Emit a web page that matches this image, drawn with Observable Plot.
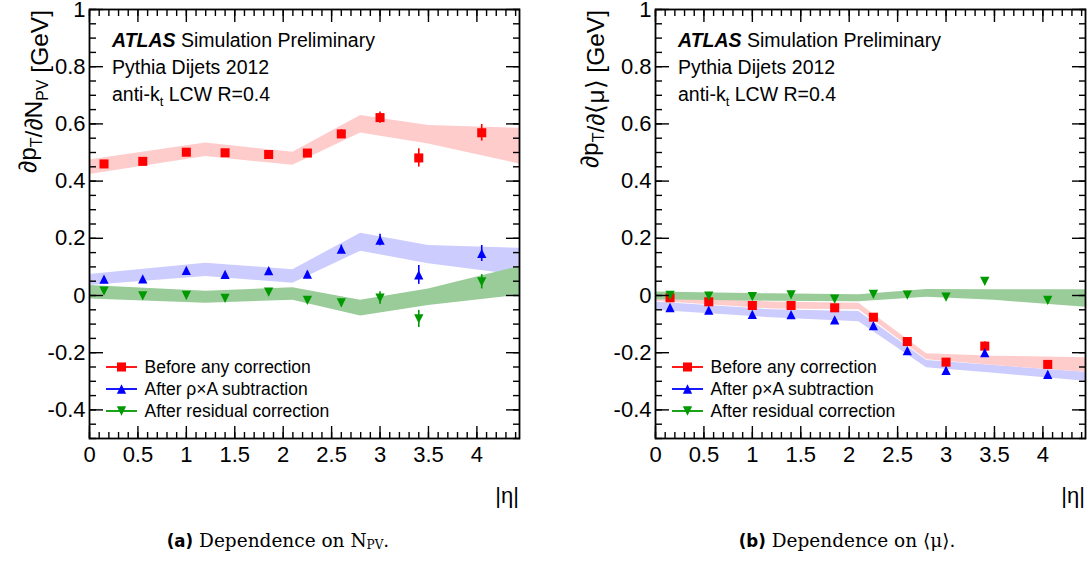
<!DOCTYPE html>
<html>
<head>
<meta charset="utf-8">
<script src="https://cdn.jsdelivr.net/npm/d3@7"></script>
<script src="https://cdn.jsdelivr.net/npm/@observablehq/plot@0.6"></script>
<style>
  body { margin: 0; background: #fff; }
  #wrap { position: relative; width: 1092px; height: 563px; background: #fff; overflow: hidden; }
  .panel { position: absolute; top: 0; }
  .cap { position: absolute; top: 530px; transform: translateX(-50%); white-space: nowrap;
         font-family: "DejaVu Serif", "Liberation Serif", serif; font-size: 18.5px; color: #000; }
  .cap b { font-family: "DejaVu Sans Condensed", "DejaVu Sans", sans-serif; font-weight: bold; }
  .cap sub { font-size: 12px; vertical-align: -2px; }
</style>
</head>
<body>
<div id="wrap">
  <div class="panel" id="pa" style="left:0"></div>
  <div class="panel" id="pb" style="left:546px"></div>
  <div class="cap" style="left:278px"><b>(a)</b> Dependence on N<sub>PV</sub>.</div>
  <div class="cap" style="left:847px"><b>(b)</b> Dependence on ⟨μ⟩.</div>
</div>
<script>
// |eta| bin centres of the measured points
const etaBins = [0.15, 0.55, 1.0, 1.4, 1.85, 2.25, 2.6, 3.0, 3.4, 4.05];
// |eta| nodes of the systematic bands
const bandEta = [0, 1.2, 2.1, 2.8, 3.5, 4.44];

// (a) dependence on N_PV
const npvBefore      = [0.460, 0.469, 0.501, 0.499, 0.493, 0.498, 0.565, 0.622, 0.481, 0.569];
const npvBeforeErr   = [0.005, 0.005, 0.006, 0.006, 0.006, 0.007, 0.015, 0.020, 0.032, 0.029];
const npvRhoA        = [0.057, 0.058, 0.088, 0.074, 0.087, 0.075, 0.162, 0.194, 0.072, 0.147];
const npvRhoAErr     = [0.005, 0.005, 0.006, 0.006, 0.006, 0.008, 0.014, 0.020, 0.033, 0.028];
const npvResidual    = [0.015, -0.001, 0.000, -0.010, 0.012, -0.017, -0.026, -0.009, -0.082, 0.048];
const npvResidualErr = [0.005, 0.005, 0.006, 0.006, 0.006, 0.007, 0.013, 0.022, 0.030, 0.025];
const npvBandBeforeLo   = [0.423, 0.486, 0.455, 0.568, 0.530, 0.460];
const npvBandBeforeHi   = [0.474, 0.533, 0.501, 0.629, 0.594, 0.585];
const npvBandRhoALo     = [0.035, 0.066, 0.043, 0.155, 0.111, 0.070];
const npvBandRhoAHi     = [0.073, 0.113, 0.090, 0.218, 0.175, 0.165];
const npvBandResidualLo = [-0.012, -0.027, -0.017, -0.072, -0.035, 0.001];
const npvBandResidualHi = [0.035, 0.015, 0.027, -0.017, 0.023, 0.101];

// (b) dependence on <mu>
const muBefore      = [-0.008, -0.022, -0.035, -0.035, -0.043, -0.076, -0.161, -0.233, -0.177, -0.241];
const muBeforeErr   = [0.004, 0.004, 0.004, 0.004, 0.005, 0.005, 0.007, 0.009, 0.015, 0.010];
const muRhoA        = [-0.042, -0.051, -0.066, -0.067, -0.085, -0.105, -0.193, -0.262, -0.200, -0.276];
const muRhoAErr     = [0.004, 0.004, 0.004, 0.004, 0.005, 0.005, 0.007, 0.009, 0.012, 0.010];
const muResidual    = [0.000, -0.002, -0.004, 0.002, -0.013, 0.004, 0.001, -0.006, 0.049, -0.017];
const muResidualErr = [0.004, 0.004, 0.004, 0.004, 0.005, 0.005, 0.006, 0.008, 0.012, 0.010];
const muBandBeforeLo   = [-0.020, -0.047, -0.050, -0.225, -0.245, -0.268];
const muBandBeforeHi   = [-0.003, -0.023, -0.027, -0.204, -0.212, -0.218];
const muBandRhoALo     = [-0.052, -0.078, -0.092, -0.253, -0.272, -0.300];
const muBandRhoAHi     = [-0.023, -0.050, -0.056, -0.227, -0.245, -0.268];
const muBandResidualLo = [-0.015, -0.020, -0.022, -0.006, -0.017, -0.041];
const muBandResidualHi = [0.012, 0.006, 0.003, 0.021, 0.020, 0.020];

// axis ticks
const xMajor = [0, 0.5, 1, 1.5, 2, 2.5, 3, 3.5, 4];
const xMinor = d3.range(0, 45).map(i => i / 10);
const yMajor = [-0.4, -0.2, 0, 0.2, 0.4, 0.6, 0.8, 1];
const yMinor = d3.range(-10, 21).map(i => +(i * 0.05).toFixed(2));

const seriesNames = ["Before any correction", "After \u03C1\u00D7A subtraction", "After residual correction"];
const markColors = ["#ff0000", "#0000ff", "#009a00"];
const bandColors = ["#ffcccc", "#ccccff", "#99cc99"];

// ROOT-like markers: full square, full triangle up, full triangle down
const triUp = {draw(ctx, size) { const w = Math.sqrt(2 * size); ctx.moveTo(0, -w / 2); ctx.lineTo(w / 2, w / 2); ctx.lineTo(-w / 2, w / 2); ctx.closePath(); }};
const triDown = {draw(ctx, size) { const w = Math.sqrt(2 * size); ctx.moveTo(0, w / 2); ctx.lineTo(w / 2, -w / 2); ctx.lineTo(-w / 2, -w / 2); ctx.closePath(); }};
const markerSymbols = ["square", triUp, triDown];
const markerR = [5.1, 3.7, 3.7];

const rows = (v, e) => etaBins.map((eta, i) => ({eta, v: v[i], lo: v[i] - e[i], hi: v[i] + e[i]}));
const band = (lo, hi) => bandEta.map((eta, i) => ({eta, lo: lo[i], hi: hi[i]}));

const W = 546, H = 510, MT = 9, MB = 72;
const FONT = "'Liberation Sans', Arial, Helvetica, sans-serif";

function panel({marginLeft, marginRight, series, bands, yTitle, yTitleX}) {
  const bandOrder = [1, 0, 2];
  const marks = [];
  for (const k of bandOrder) {
    marks.push(Plot.areaY(bands[k], {x: "eta", y1: "lo", y2: "hi", fill: bandColors[k], curve: "linear"}));
  }
  series.forEach((s, k) => {
    marks.push(Plot.ruleX(s, {x: "eta", y1: "lo", y2: "hi", stroke: markColors[k], strokeWidth: 1.6}));
  });
  series.forEach((s, k) => {
    marks.push(Plot.dot(s, {x: "eta", y: "v", symbol: markerSymbols[k], r: markerR[k], fill: markColors[k], stroke: "none"}));
  });
  const blank = () => "";
  marks.push(
    // tick labels
    Plot.axisX(xMajor, {anchor: "bottom", tickSize: 0, tickPadding: 8, tickFormat: d => String(d), fontSize: 22, label: null}),
    Plot.axisY(yMajor, {anchor: "left", tickSize: 0, tickPadding: 4, tickFormat: d => String(d), fontSize: 22, label: null}),
    // inward ticks on all four sides
    Plot.axisX(xMajor, {anchor: "bottom", tickSize: -12, tickFormat: blank, label: null, strokeWidth: 1.4}),
    Plot.axisX(xMinor, {anchor: "bottom", tickSize: -6, tickFormat: blank, label: null, strokeWidth: 1.4}),
    Plot.axisX(xMajor, {anchor: "top", tickSize: -12, tickFormat: blank, label: null, strokeWidth: 1.4}),
    Plot.axisX(xMinor, {anchor: "top", tickSize: -6, tickFormat: blank, label: null, strokeWidth: 1.4}),
    Plot.axisY(yMajor, {anchor: "left", tickSize: -14, tickFormat: blank, label: null, strokeWidth: 1.4}),
    Plot.axisY(yMinor, {anchor: "left", tickSize: -7, tickFormat: blank, label: null, strokeWidth: 1.4}),
    Plot.axisY(yMajor, {anchor: "right", tickSize: -14, tickFormat: blank, label: null, strokeWidth: 1.4}),
    Plot.axisY(yMinor, {anchor: "right", tickSize: -7, tickFormat: blank, label: null, strokeWidth: 1.4}),
    Plot.frame({stroke: "#000", strokeWidth: 1.8})
  );

  const svg = Plot.plot({
    width: W, height: H,
    marginTop: MT, marginBottom: MB, marginLeft, marginRight,
    x: {domain: [0, 4.44]},
    y: {domain: [-0.5, 1]},
    style: {fontFamily: FONT, fontSize: "22px", color: "#000", background: "#fff", overflow: "visible"},
    marks
  });

  const g = d3.select(svg);
  const left = marginLeft, right = W - marginRight;
  const txt = (sel, size) => sel.style("font-family", FONT).style("font-size", size).attr("fill", "#000");

  // vertical axis title with subscripts
  const yt = txt(g.append("text")
    .attr("transform", `translate(${yTitleX},${10}) rotate(-90)`)
    .attr("text-anchor", "end"), "24.5px");
  yTitle.forEach(([s, sub]) => {
    if (sub) {
      yt.append("tspan").text(s).attr("dy", 6).style("font-size", "16px");
      yt.append("tspan").text("").attr("dy", -6);
    } else {
      yt.append("tspan").text(s);
    }
  });

  // horizontal axis title
  txt(g.append("text").attr("x", right).attr("y", 503).attr("text-anchor", "end"), "22px").text("|\u03B7|");

  // ATLAS label block
  const tx = left + 23;
  const t1 = txt(g.append("text").attr("x", tx).attr("y", 47).attr("text-anchor", "start"), "19.5px");
  t1.append("tspan").text("ATLAS").style("font-weight", "bold").style("font-style", "italic");
  t1.append("tspan").text(" Simulation Preliminary");
  txt(g.append("text").attr("x", tx).attr("y", 74).attr("text-anchor", "start"), "19.5px").text("Pythia Dijets 2012");
  const t3 = txt(g.append("text").attr("x", tx).attr("y", 101).attr("text-anchor", "start"), "19.5px");
  t3.append("tspan").text("anti-k");
  t3.append("tspan").text("t").attr("dy", 5).style("font-size", "13px");
  t3.append("tspan").text(" LCW R=0.4").attr("dy", -5);

  // legend
  const lg = g.append("g").attr("transform", `translate(${left + 17},0)`);
  const rowsY = [367, 389, 411];
  seriesNames.forEach((name, k) => {
    const y = rowsY[k];
    lg.append("line").attr("x1", 0).attr("x2", 31).attr("y1", y).attr("y2", y)
      .attr("stroke", markColors[k]).attr("stroke-width", 1.8);
    const sym = d3.symbol().type(k === 0 ? d3.symbolSquare : markerSymbols[k]).size(Math.PI * markerR[k] * markerR[k]);
    lg.append("path").attr("d", sym()).attr("transform", `translate(15.5,${y})`).attr("fill", markColors[k]);
    txt(lg.append("text").attr("x", 38.5).attr("y", y).attr("dy", "0.35em").attr("text-anchor", "start"), "17.5px").text(name);
  });
  return svg;
}

document.getElementById("pa").appendChild(panel({
  marginLeft: 89, marginRight: 27,
  series: [rows(npvBefore, npvBeforeErr), rows(npvRhoA, npvRhoAErr), rows(npvResidual, npvResidualErr)],
  bands: [band(npvBandBeforeLo, npvBandBeforeHi), band(npvBandRhoALo, npvBandRhoAHi), band(npvBandResidualLo, npvBandResidualHi)],
  yTitle: [["\u2202p"], ["T", true], ["/\u2202N"], ["PV", true], [" [GeV]"]],
  yTitleX: 36
}));

document.getElementById("pb").appendChild(panel({
  marginLeft: 109, marginRight: 7,
  series: [rows(muBefore, muBeforeErr), rows(muRhoA, muRhoAErr), rows(muResidual, muResidualErr)],
  bands: [band(muBandBeforeLo, muBandBeforeHi), band(muBandRhoALo, muBandRhoAHi), band(muBandResidualLo, muBandResidualHi)],
  yTitle: [["\u2202p"], ["T", true], ["/\u2202\u27E8\u03BC\u27E9"], [" [GeV]"]],
  yTitleX: 52
}));
</script>
</body>
</html>
